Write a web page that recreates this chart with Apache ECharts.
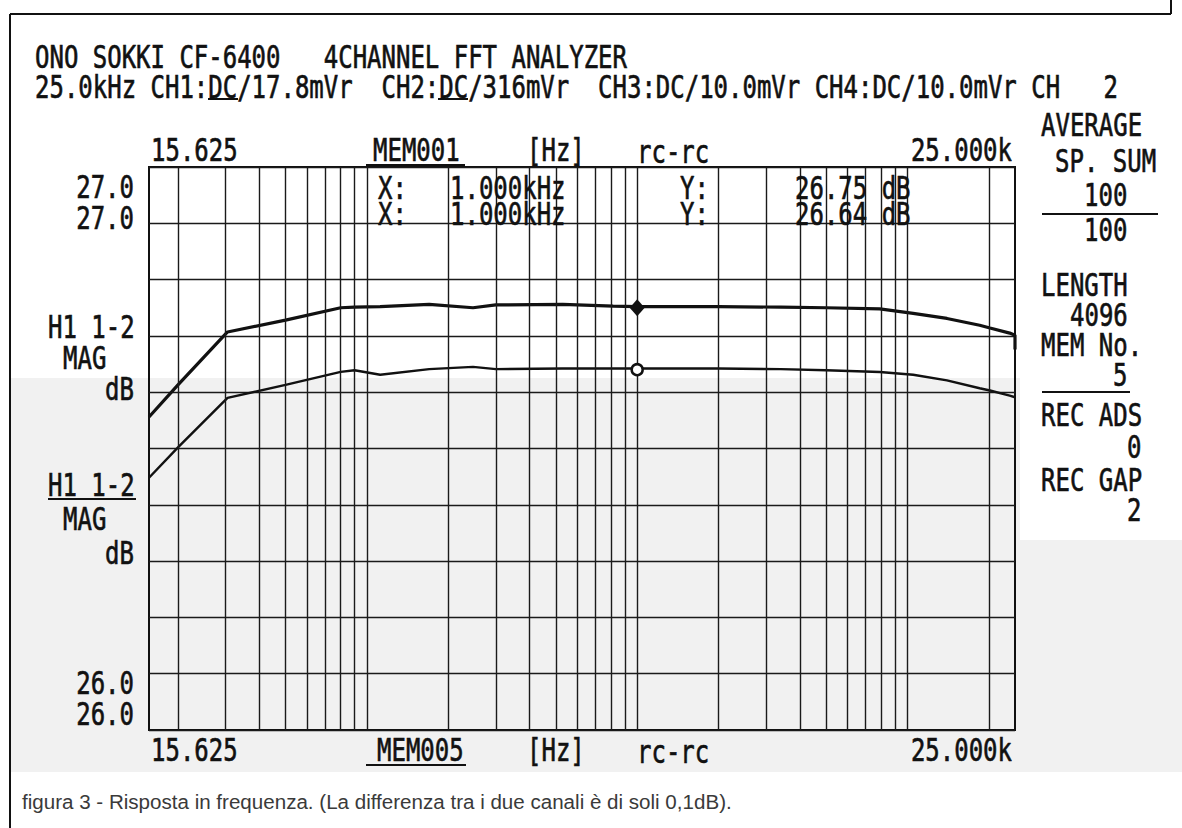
<!DOCTYPE html>
<html><head><meta charset="utf-8">
<script src="https://cdn.jsdelivr.net/npm/echarts@6/dist/echarts.min.js"></script>
<style>html,body{margin:0;padding:0;background:#fff}#c{width:1182px;height:828px}</style>
</head><body><div id="c"></div>
<script>
// ---- data ----
const freqHz = [15.625, 20, 30.5, 50, 80, 90, 112, 170, 247, 300, 530, 815, 1000, 2000, 3400, 5000, 7900, 10500, 14000, 18500, 20200, 23900, 25000];
const ch1Db  = [26.556, 26.613, 26.707, 26.728, 26.750, 26.751, 26.752, 26.756, 26.750, 26.755, 26.756, 26.753, 26.752, 26.752, 26.751, 26.750, 26.748, 26.740, 26.731, 26.719, 26.714, 26.705, 26.701];
const ch2Db  = [26.448, 26.502, 26.590, 26.613, 26.636, 26.639, 26.631, 26.641, 26.645, 26.641, 26.642, 26.642, 26.642, 26.642, 26.641, 26.639, 26.636, 26.631, 26.621, 26.607, 26.603, 26.594, 26.591];
const ch1TailHz = [25000];
const ch1TailDb = [26.676];
const gridFreqHz = [20, 30, 40, 50, 60, 70, 80, 90, 100, 200, 300, 400, 500, 600, 700, 800, 900, 1000, 2000, 3000, 4000, 5000, 6000, 7000, 8000, 9000, 10000, 20000];
const xRange = [15.625, 25000];
const xRangeLabels = ['15.625', '25.000k'];
const yRange = [26.0, 27.0];
const yStep = 0.1;
const yTopLabels = ['27.0', '27.0'];
const yBottomLabels = ['26.0', '26.0'];
const cursorHz = 1000;
const cursorDb = [26.75, 26.64];
const cursorXText = ['1.000kHz', '1.000kHz'];
const cursorYText = ['26.75 dB', '26.64 dB'];
const headerLine1 = 'ONO SOKKI CF-6400   4CHANNEL FFT ANALYZER';
const headerLine2 = '25.0kHz CH1:DC/17.8mVr  CH2:DC/316mVr  CH3:DC/10.0mVr CH4:DC/10.0mVr CH   2';
const topMemo = 'MEM001';
const bottomMemo = 'MEM005';
const unitText = '[Hz]';
const modeText = 'rc-rc';
const caption = 'figura 3 - Risposta in frequenza. (La differenza tra i due canali è di soli 0,1dB).';

// ---- drawing ----
const INK = '#111111';
const FONT = '24px "DejaVu Sans Mono", "Liberation Mono", monospace';
function T(text, x, y, align) {
  return { type: 'text', x: x, y: y, scaleY: 1.36, z: 100,
    style: { text: text, fill: INK, stroke: INK, lineWidth: 0.5, font: FONT, align: align || 'left', verticalAlign: 'middle' } };
}
function L(x1, y1, x2, y2, w) {
  return { type: 'line', z: 100, shape: { x1: x1, y1: y1, x2: x2, y2: y2 },
    style: { stroke: INK, lineWidth: w || 2 } };
}

const graphics = [
  { type: 'rect', z: -10, shape: { x: 11, y: 378, width: 1009, height: 394 }, style: { fill: '#f1f1f1' } },
  { type: 'rect', z: -10, shape: { x: 1020, y: 540, width: 162, height: 232 }, style: { fill: '#f1f1f1' } },
  L(10, 14, 1171, 14, 2), L(10, 14, 10, 828, 2), L(1171, 0, 1171, 14, 2),
  T(headerLine1, 35, 57),
  T(headerLine2, 35, 87),
  L(208, 99, 238, 99, 2), L(438, 99, 468, 99, 2),
  // top scale row
  T(xRangeLabels[0], 151, 150), T(topMemo, 373, 150), L(366, 165, 465, 165, 2),
  T(unitText, 527, 150), T(modeText, 637, 152), T(xRangeLabels[1], 1012, 150, 'right'),
  // bottom scale row
  T(xRangeLabels[0], 151, 750), T(bottomMemo, 377, 750), L(366, 765, 466, 765, 2),
  T(unitText, 527, 750), T(modeText, 637, 752), T(xRangeLabels[1], 1012, 750, 'right'),
  // left labels
  T(yTopLabels[0], 134, 187, 'right'), T(yTopLabels[1], 134, 218, 'right'),
  T('H1 1-2', 48, 327), T('MAG', 63, 358), T('dB', 134, 389, 'right'),
  T('H1 1-2', 48, 485), L(48, 499, 136, 499, 2), T('MAG', 63, 519), T('dB', 134, 553, 'right'),
  T(yBottomLabels[0], 134, 683, 'right'), T(yBottomLabels[1], 134, 714, 'right'),
  // cursor readouts
  T('X:', 378, 188), T(cursorXText[0], 450, 188), T('Y:', 680, 188), T(cursorYText[0], 795, 188),
  T('X:', 378, 214), T(cursorXText[1], 450, 214), T('Y:', 680, 214), T(cursorYText[1], 795, 214),
  // right panel
  T('AVERAGE', 1041, 125), T('SP. SUM', 1055, 161), T('100', 1084, 195), L(1042, 214, 1158, 214, 2),
  T('100', 1084, 230), T('LENGTH', 1041, 285), T('4096', 1070, 315), T('MEM No.', 1041, 345),
  T('5', 1113, 375), L(1042, 392, 1130, 392, 2), T('REC ADS', 1041, 415), T('0', 1127, 447),
  T('REC GAP', 1041, 480), T('2', 1127, 510),
  // caption
  { type: 'text', x: 22, y: 801, z: 100, scaleX: 0.98,
    style: { text: caption, fill: '#3a3a3a', font: '21px "Liberation Sans", Arial, sans-serif', align: 'left', verticalAlign: 'middle' } }
];

const chart = echarts.init(document.getElementById('c'), null, { renderer: 'svg' });
chart.setOption({
  animation: false,
  backgroundColor: '#ffffff',
  graphic: { elements: graphics },
  grid: { left: 149, top: 167, width: 866, height: 563, show: true, borderColor: INK, borderWidth: 2, backgroundColor: 'transparent' },
  xAxis: { type: 'log', logBase: 10, min: xRange[0], max: xRange[1],
    axisLine: { show: false }, axisTick: { show: false }, axisLabel: { show: false }, splitLine: { show: false } },
  yAxis: { type: 'value', min: yRange[0], max: yRange[1], interval: yStep,
    axisLine: { show: false }, axisTick: { show: false }, axisLabel: { show: false },
    splitLine: { show: true, lineStyle: { color: '#1a1a1a', width: 1.4 } } },
  series: [
    { type: 'line', data: [], z: 1, silent: true,
      markLine: { silent: true, animation: false, symbol: ['none', 'none'], label: { show: false },
        lineStyle: { color: '#1a1a1a', width: 1.4, type: 'solid' },
        emphasis: { disabled: true },
        data: gridFreqHz.map(f => ({ xAxis: f })) } },
    { name: 'CH1', type: 'line', z: 3, symbol: 'none', silent: true,
      lineStyle: { color: INK, width: 3.2 },
      data: freqHz.map((f, i) => [f, ch1Db[i]]).concat(ch1TailHz.map((f, i) => [f, ch1TailDb[i]])),
      markPoint: { silent: true, symbol: 'diamond', symbolSize: [15, 17], label: { show: false },
        itemStyle: { color: INK }, data: [{ coord: [cursorHz, cursorDb[0]] }] } },
    { name: 'CH2', type: 'line', z: 3, symbol: 'none', silent: true,
      lineStyle: { color: INK, width: 2.4 },
      data: freqHz.map((f, i) => [f, ch2Db[i]]),
      markPoint: { silent: true, symbol: 'circle', symbolSize: 11, label: { show: false },
        itemStyle: { color: '#ffffff', borderColor: INK, borderWidth: 2.5 }, data: [{ coord: [cursorHz, cursorDb[1]] }] } }
  ]
});
</script></body></html>
